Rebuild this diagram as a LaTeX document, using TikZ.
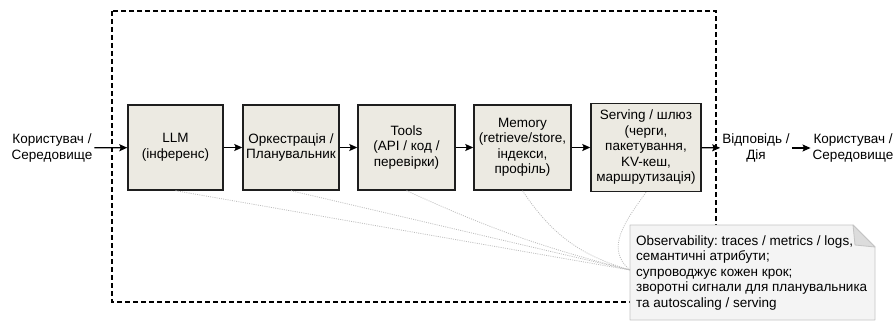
\documentclass[tikz,border=0pt]{standalone}
\usepackage{fontspec}
\setmainfont{Liberation Sans}
\usetikzlibrary{arrows.meta}
\frenchspacing

\definecolor{stagefill}{HTML}{ECEAE2}
\definecolor{stageedge}{HTML}{1E1E1E}
\definecolor{notefill}{HTML}{F4F4F4}
\definecolor{noteedge}{HTML}{C4C4C4}
\definecolor{tracegray}{HTML}{BDBDBD}

\begin{document}
\begin{tikzpicture}[
    x=1pt, y=-1pt,
    txt/.style={font=\fontsize{13.5}{15.5}\selectfont},
    stage/.style={txt, draw=stageedge, line width=1.4pt, fill=stagefill,
                  minimum height=85pt, inner sep=0pt, align=center},
    endpoint/.style={txt, align=center, inner sep=2pt},
    flow/.style={-{Stealth[length=8pt,width=7pt,inset=1.5pt]}, line width=1.2pt},
    frameline/.style={line width=1.2pt, dash pattern=on 5pt off 3pt},
    trace/.style={draw=tracegray, line width=0.8pt, dash pattern=on 1pt off 1.2pt},
    noteline/.style={draw=noteedge, line width=0.8pt, fill=notefill, line join=round},
  ]
  \useasboundingbox (0,0) rectangle (896,321);

  % system boundary
  \coordinate (fnw) at (112,11);
  \coordinate (fse) at (716,302);
  \draw[frameline] (fnw) rectangle (fse);

  % pipeline stages
  \node[endpoint] (src) at (52,148) {Користувач /\\Середовище};
  \node[stage, minimum width=95pt] (llm) at (175.5,147.5) {LLM\\(інференс)};
  \node[stage, minimum width=96pt] (orch) at (291,147.5) {Оркестрація /\\Планувальник};
  \node[stage, minimum width=97pt] (tools) at (406.5,147.5) {Tools\\(API / код /\\перевірки)};
  \node[stage, minimum width=97pt] (mem) at (522.5,147.5) {Memory\\(retrieve/store,\\індекси,\\профіль)};
  \node[stage, minimum width=110pt, minimum height=88pt] (serv) at (646,147.5)
    {Serving / шлюз\\(черги,\\пакетування,\\KV-кеш,\\маршрутизація)};
  \node[endpoint] (resp) at (756,148) {Відповідь /\\Дія};
  \node[endpoint] (dst) at (853,148) {Користувач /\\Середовище};

  \draw[flow] (src) -- (llm);
  \draw[flow] (llm) -- (orch);
  \draw[flow] (orch) -- (tools);
  \draw[flow] (tools) -- (mem);
  \draw[flow] (mem) -- (serv);
  \draw[flow] (serv) -- (resp);
  \draw[flow] (resp) -- (dst);

  % observability note with folded corner
  \coordinate (nnw) at (630,225);
  \coordinate (nse) at (875,320);
  \coordinate (nfold) at (853,225);
  \coordinate (nfoldb) at (875,247);
  \draw[noteline] (nnw) -- (nfold) -- (nfoldb) -- (nse) -- (630,320) -- cycle;
  \draw[noteline, fill=notefill!90!black] (nfold) -- (855,245) -- (nfoldb) -- cycle;
  \node[txt, align=left, anchor=west, inner sep=0pt] (obs) at (636,273)
    {Observability: traces / metrics / logs,\\
     семантичні атрибути;\\
     супроводжує кожен крок;\\
     зворотні сигнали для планувальника\\
     та autoscaling / serving};

  % every stage reports to observability
  \coordinate (obsin) at (630,270);
  \draw[trace] (llm.south) -- (obsin);
  \draw[trace] (orch.south) -- (obsin);
  \draw[trace] (tools.south) to[bend right=5] (obsin);
  \draw[trace] (mem.south) to[bend right=20] (obsin);
  \draw[trace] (serv.south) to[out=235, in=140, looseness=1.1] (obsin);
\end{tikzpicture}
\end{document}
